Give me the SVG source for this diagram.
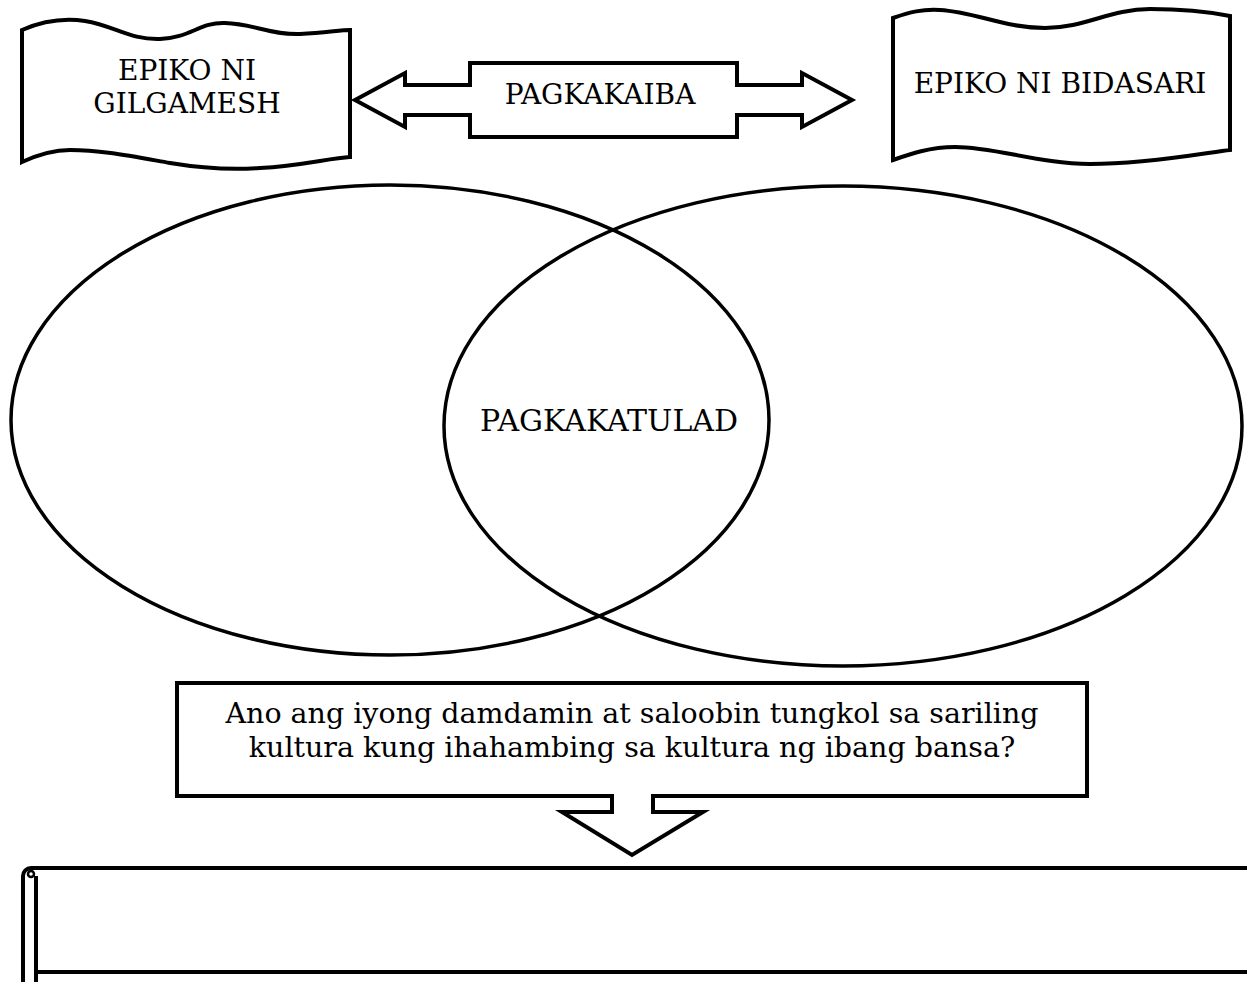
<svg xmlns="http://www.w3.org/2000/svg" width="1247" height="982" viewBox="0 0 1247 982">
<style>
.s{fill:#fff;stroke:#000;stroke-width:4;stroke-linejoin:miter}
.e{fill:none;stroke:#000;stroke-width:3.5}
.t{font-family:"DejaVu Serif","Liberation Serif",serif;font-size:28px;fill:#000;text-anchor:middle}
.l{fill:none;stroke:#000;stroke-width:4}
</style>
<rect width="1247" height="982" fill="#fff"/>
<g id="venn">
<ellipse class="e" cx="390" cy="420" rx="379" ry="235"/>
<ellipse class="e" cx="843" cy="426" rx="399" ry="240"/>
<text class="t" x="609" y="431" style="font-size:30px">PAGKAKATULAD</text>
</g>
<g id="gilgamesh">
<path class="s" d="M22,30 C45,20 65,18 85,21 C115,26 130,40 160,39 C190,38 200,22 225,23 C255,24 270,35 300,34 C325,33 340,30 350,30 L350,157 C330,158 300,166 260,168 C230,170 200,168 170,163 C130,156 100,150 70,150 C50,150 35,156 22,162 Z"/>
<text class="t" x="187" y="80">EPIKO NI</text>
<text class="t" x="187" y="113">GILGAMESH</text>
</g>
<g id="pagkakaiba">
<path class="s" d="M355,100 L405,73 L405,85 L470,85 L470,63 L737,63 L737,85 L802,85 L802,73 L852,100 L802,127 L802,115 L737,115 L737,137 L470,137 L470,115 L405,115 L405,127 Z"/>
<text class="t" x="600" y="104">PAGKAKAIBA</text>
</g>
<g id="bidasari">
<path class="s" d="M893,18 C910,12 922,9 940,10 C975,12 1005,28 1045,28 C1085,28 1110,9 1150,9 C1190,9 1215,13 1230,16 L1230,150 C1210,152 1150,164 1090,164 C1040,164 995,147 955,147 C930,147 910,154 893,160 Z"/>
<text class="t" x="1060" y="93">EPIKO NI BIDASARI</text>
</g>
<g id="question">
<path class="s" d="M177,683 H1087 V796 H653 V812 H703 L632,855 L562,812 H612 V796 H177 Z"/>
<text class="t" x="632" y="723" style="font-size:28.5px">Ano ang iyong damdamin at saloobin tungkol sa sariling</text>
<text class="t" x="632" y="757" style="font-size:28.5px">kultura kung ihahambing sa kultura ng ibang bansa?</text>
</g>
<g id="scroll">
<path class="l" d="M23,984 V876 A8,8 0 0 1 31,868 H1249"/>
<path class="l" d="M36,984 V876"/>
<path class="l" d="M36,972 H1249"/>
<circle cx="31" cy="874" r="3" fill="none" stroke="#000" stroke-width="2.5"/>
</g>
<g id="connectors"></g>
</svg>
